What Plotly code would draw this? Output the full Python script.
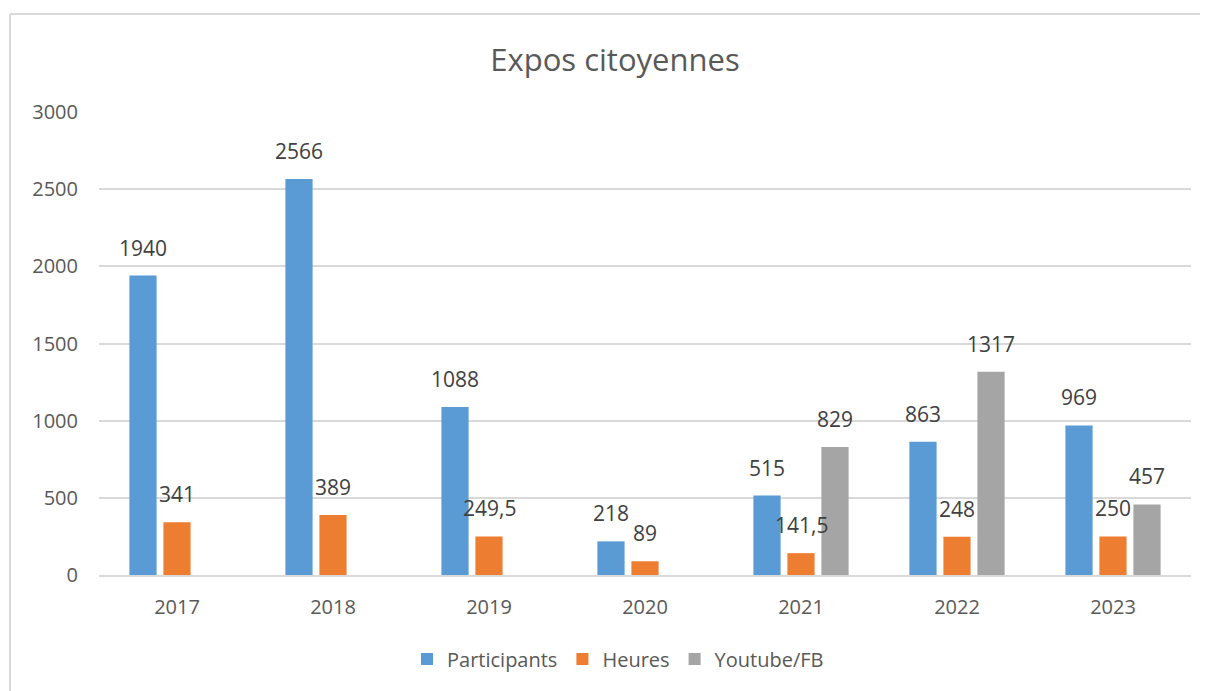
import plotly.graph_objects as go

years = ["2017", "2018", "2019", "2020", "2021", "2022", "2023"]
participants = [1940, 2566, 1088, 218, 515, 863, 969]
heures = [341, 389, 249.5, 89, 141.5, 248, 250]
youtube = [None, None, None, None, 829, 1317, 457]
series_names = ["Participants", "Heures", "Youtube/FB"]
colors = ["#5B9BD5", "#ED7D31", "#A5A5A5"]

FONT = "Open Sans, sans-serif"
TXT = "#595959"

def fmt(v):
    return ("%g" % v).replace(".", ",")

fig = go.Figure()
all_series = [participants, heures, youtube]
for name, vals, col in zip(series_names, all_series, colors):
    fig.add_trace(go.Bar(x=years, y=vals, name=name, marker=dict(color=col, line=dict(width=0))))

# data labels above bars (Excel style offset)
slot = 0.218
for i, vals in enumerate(all_series):
    for j, v in enumerate(vals):
        if v is None:
            continue
        fig.add_annotation(x=j + (i - 1) * slot, y=v, text=fmt(v), showarrow=False,
                           yanchor="bottom", yshift=12, xref="x", yref="y",
                           font=dict(family=FONT, size=21, color="#404040"))

# page body has an 8px margin
OFF = 8
W, H = 1208 - OFF, 691 - OFF
L = 99 - OFF
T = 112 - OFF
R = W - (1191 - OFF)
B = H - (575 - OFF)
pw = W - L - R
ph = H - T - B

fig.update_layout(
    width=W, height=H,
    margin=dict(l=L, r=R, t=T, b=B),
    paper_bgcolor="white", plot_bgcolor="white",
    barmode="group", bargap=0.346, bargroupgap=0.2,
    font=dict(family=FONT, color=TXT, size=20),
    title=dict(text="Expos citoyennes", x=(615 - OFF) / W, xanchor="center", xref="container",
               y=1 - (60 - OFF) / H, yanchor="middle", yref="container",
               font=dict(family=FONT, size=31, color=TXT)),
    legend=dict(orientation="h", x=(618 - OFF) / W, xanchor="center", xref="container",
                y=1 - (659 - OFF) / H, yanchor="middle", yref="container",
                font=dict(family=FONT, size=20, color=TXT), itemwidth=30,
                traceorder="normal"),
    showlegend=True,
)
fig.update_xaxes(type="category", showgrid=False, showline=True, linecolor="#D9D9D9",
                 linewidth=2, ticks="", ticklabelstandoff=13,
                 tickfont=dict(family=FONT, size=20, color=TXT), range=[-0.5, 6.5])
fig.update_yaxes(range=[0, 3000], dtick=500, showgrid=True, gridcolor="#D9D9D9", gridwidth=2,
                 zeroline=False, showline=False, ticks="", ticklabelstandoff=20,
                 tickfont=dict(family=FONT, size=20, color=TXT))

# chart frame (Excel chart border): left and top edges visible
fx0 = (10 - OFF - L) / pw
fy1 = 1 + (T - (14 - OFF)) / ph
fig.add_shape(type="line", xref="paper", yref="paper", x0=fx0, x1=fx0, y0=-0.5, y1=fy1,
              line=dict(color="#D9D9D9", width=2), layer="below")
fig.add_shape(type="line", xref="paper", yref="paper", x0=fx0, x1=1.5, y0=fy1, y1=fy1,
              line=dict(color="#D9D9D9", width=2), layer="below")

fig.write_html("out.html")
